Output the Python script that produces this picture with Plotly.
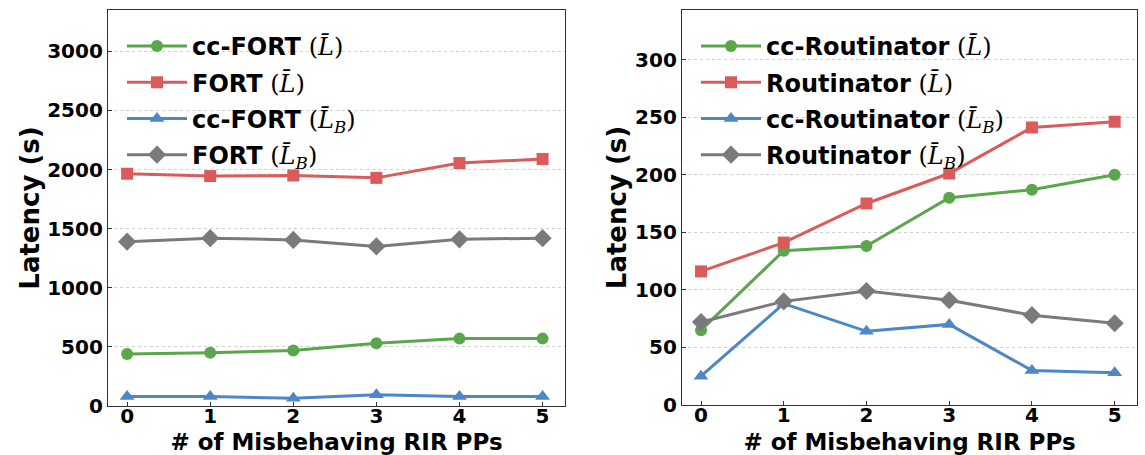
import plotly.graph_objects as go

x_vals = [0, 1, 2, 3, 4, 5]

# Left panel (FORT)
fort_names = ["cc-FORT", "FORT", "cc-FORT", "FORT"]
cc_fort_L = [440, 450, 470, 530, 570, 570]
fort_L = [1965, 1945, 1950, 1930, 2055, 2090]
cc_fort_LB = [80, 80, 65, 95, 80, 80]
fort_LB = [1390, 1420, 1405, 1350, 1410, 1420]

# Right panel (Routinator)
rout_names = ["cc-Routinator", "Routinator", "cc-Routinator", "Routinator"]
cc_rout_L = [65, 134, 138, 180, 187, 200]
rout_L = [116, 141, 175, 201, 241, 246]
cc_rout_LB = [25, 88, 64, 70, 30, 28]
rout_LB = [72, 90, 99, 91, 78, 71]

left_yticks = [0, 500, 1000, 1500, 2000, 2500, 3000]
right_yticks = [0, 50, 100, 150, 200, 250, 300]

colors = ["#5aa64b", "#db5b5b", "#4d87c7", "#7a7a7a"]
symbols = ["circle", "square", "triangle-up", "diamond"]
msizes = [12, 12, 13, 14]
math_L = "<span style='font-family:DejaVu Serif;font-weight:normal'>(<i>L̄</i>)</span>"
math_LB = "<span style='font-family:DejaVu Serif;font-weight:normal'>(<i>L̄<sub>B</sub></i>)</span>"
suffixes = [math_L, math_L, math_LB, math_LB]

FONT = "DejaVu Sans"

fig = go.Figure()

left_series = [cc_fort_L, fort_L, cc_fort_LB, fort_LB]
right_series = [cc_rout_L, rout_L, cc_rout_LB, rout_LB]

for i, ys in enumerate(left_series):
    fig.add_trace(go.Scatter(
        x=x_vals, y=ys, mode="lines+markers",
        name="<b>" + fort_names[i] + "</b> " + suffixes[i],
        line=dict(color=colors[i], width=3),
        marker=dict(symbol=symbols[i], size=msizes[i], color=colors[i]),
        xaxis="x", yaxis="y", legend="legend", legendgroup="l" + str(i),
    ))
for i, ys in enumerate(right_series):
    fig.add_trace(go.Scatter(
        x=x_vals, y=ys, mode="lines+markers",
        name="<b>" + rout_names[i] + "</b> " + suffixes[i],
        line=dict(color=colors[i], width=3),
        marker=dict(symbol=symbols[i], size=msizes[i], color=colors[i]),
        xaxis="x2", yaxis="y2", legend="legend2", legendgroup="r" + str(i),
    ))

W, H = 1145, 455
def px_x(p): return p / W
def px_y(p): return 1 - p / H

axis_common = dict(
    showline=True, linecolor="#333333", linewidth=1.3, mirror=True,
    ticks="inside", ticklen=4, tickwidth=1.2, tickcolor="#333333",
    tickfont=dict(family=FONT, size=20, color="black", weight="bold"),
    zeroline=False, automargin=False,
)

xtitle = dict(text="<b># of Misbehaving RIR PPs</b>", font=dict(size=23, family=FONT), standoff=11)
ytitle = dict(text="<b>Latency (s)</b>", font=dict(size=26, family=FONT), standoff=0)

legend_common = dict(xanchor="left", yanchor="top", bgcolor="rgba(0,0,0,0)",
                     font=dict(size=24, family=FONT, color="black"),
                     traceorder="grouped", tracegroupgap=2, itemwidth=60)

fig.update_layout(
    width=W, height=H,
    margin=dict(l=0, r=0, t=0, b=0),
    paper_bgcolor="white", plot_bgcolor="white",
    font=dict(family=FONT, color="black"),
    xaxis=dict(domain=[px_x(108), px_x(565)], range=[-0.23, 5.27],
               tickvals=x_vals, showgrid=False, anchor="y", ticklabelstandoff=-8,
               title=xtitle, **axis_common),
    yaxis=dict(domain=[px_y(406), px_y(10)], range=[0, 3350],
               tickvals=left_yticks, showgrid=True, gridcolor="#d0d0d0",
               griddash="dot", gridwidth=0.8, anchor="x",
               title=ytitle, **axis_common),
    xaxis2=dict(domain=[px_x(682), px_x(1137)], range=[-0.23, 5.27],
                tickvals=x_vals, showgrid=False, anchor="y2", ticklabelstandoff=-8,
                title=xtitle, **axis_common),
    yaxis2=dict(domain=[px_y(405), px_y(10)], range=[0, 343],
                tickvals=right_yticks, showgrid=True, gridcolor="#d0d0d0",
                griddash="dot", gridwidth=0.8, anchor="x2",
                title=ytitle, **axis_common),
    legend=dict(x=px_x(122), y=px_y(24), **legend_common),
    legend2=dict(x=px_x(696), y=px_y(24), **legend_common),
)

fig.write_html("out.html")
